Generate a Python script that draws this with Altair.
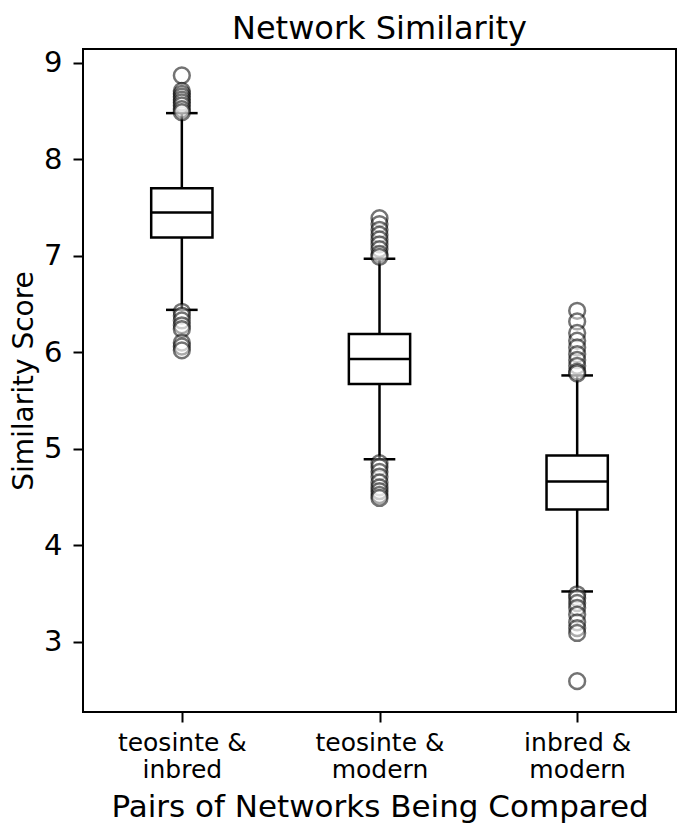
import altair as alt
import pandas as pd

# ---- data ----
categories = ["teosinte & inbred", "teosinte & modern", "inbred & modern"]
positions = [1, 2, 3]
q1 = [7.19, 5.67, 4.37]
median = [7.45, 5.93, 4.66]
q3 = [7.70, 6.19, 4.93]
whisker_low = [6.44, 4.89, 3.52]
whisker_high = [8.48, 6.97, 5.76]

outliers_teosinte_inbred = [8.87, 8.71, 8.68, 8.65, 8.62, 8.59, 8.56, 8.52, 8.49,
                            6.42, 6.38, 6.33, 6.28, 6.24, 6.10, 6.06, 6.02]
outliers_teosinte_modern = [7.39, 7.33, 7.27, 7.22, 7.17, 7.12, 7.07, 7.02, 6.99,
                            4.85, 4.81, 4.76, 4.71, 4.65, 4.60, 4.56, 4.52, 4.49]
outliers_inbred_modern = [6.43, 6.32, 6.20, 6.12, 6.05, 5.98, 5.92, 5.86, 5.80, 5.78,
                          3.49, 3.45, 3.40, 3.35, 3.28, 3.20, 3.14, 3.09, 2.59]

y_ticks = [3, 4, 5, 6, 7, 8, 9]

# ---- styling constants ----
BOX_HALF = 0.155
CAP_HALF = 0.08
LW = 2.5
FONT = "DejaVu Sans"

box_df = pd.DataFrame({
    "category": categories,
    "pos": positions,
    "q1": q1, "med": median, "q3": q3,
    "wlo": whisker_low, "whi": whisker_high,
})
box_df["box_l"] = box_df["pos"] - BOX_HALF
box_df["box_r"] = box_df["pos"] + BOX_HALF
box_df["cap_l"] = box_df["pos"] - CAP_HALF
box_df["cap_r"] = box_df["pos"] + CAP_HALF

out_rows = []
for p, vals in zip(positions, [outliers_teosinte_inbred, outliers_teosinte_modern, outliers_inbred_modern]):
    for v in vals:
        out_rows.append({"pos": p, "value": v})
out_df = pd.DataFrame(out_rows)

# multi-line tick labels: "teosinte &" / "inbred"
parts = []
for p, c in zip(positions, categories):
    a, b = c.split(" & ")
    parts.append((p, f"['{a} &', '{b}']"))
label_expr = ""
for p, arr in parts[:-1]:
    label_expr += f"datum.value == {p} ? {arr} : "
label_expr += parts[-1][1]

xscale = alt.Scale(domain=[0.5, 3.5], nice=False, zero=False)
yscale = alt.Scale(domain=[2.27, 9.145], nice=False, zero=False)

xaxis = alt.Axis(
    values=positions, labelExpr=label_expr, title="Pairs of Networks Being Compared",
    labelFontSize=25, labelLineHeight=27, labelPadding=8, labelFont=FONT,
    titleFontSize=31, titleFont=FONT, titleY=104, titleBaseline="alphabetic",
    tickSize=10, tickWidth=2, tickColor="black", labelColor="black", titleColor="black",
    domain=False, grid=False, titleFontWeight="normal",
)
yaxis = alt.Axis(
    values=y_ticks, title="Similarity Score", format="d",
    labelFontSize=29, labelPadding=11, labelFont=FONT,
    titleFontSize=28, titleFont=FONT, titleX=-59, titleY=331.5, titleAngle=270,
    titleBaseline="middle", titleAlign="center",
    tickSize=10, tickWidth=2, tickColor="black", labelColor="black", titleColor="black",
    domain=False, grid=False, titleFontWeight="normal",
)

base = alt.Chart(box_df)

whisk_lo = base.mark_rule(color="black", strokeWidth=LW).encode(
    x=alt.X("pos:Q", scale=xscale, axis=xaxis),
    y=alt.Y("wlo:Q", scale=yscale, axis=yaxis),
    y2="q1:Q",
)
whisk_hi = base.mark_rule(color="black", strokeWidth=LW).encode(
    x=alt.X("pos:Q", scale=xscale, axis=xaxis),
    y=alt.Y("q3:Q", scale=yscale, axis=yaxis),
    y2="whi:Q",
)
cap_lo = base.mark_rule(color="black", strokeWidth=LW).encode(
    x=alt.X("cap_l:Q", scale=xscale, axis=xaxis), x2="cap_r:Q",
    y=alt.Y("wlo:Q", scale=yscale, axis=yaxis),
)
cap_hi = base.mark_rule(color="black", strokeWidth=LW).encode(
    x=alt.X("cap_l:Q", scale=xscale, axis=xaxis), x2="cap_r:Q",
    y=alt.Y("whi:Q", scale=yscale, axis=yaxis),
)
box = base.mark_rect(fill="white", stroke="black", strokeWidth=LW).encode(
    x=alt.X("box_l:Q", scale=xscale, axis=xaxis), x2="box_r:Q",
    y=alt.Y("q1:Q", scale=yscale, axis=yaxis), y2="q3:Q",
)
med = base.mark_rule(color="black", strokeWidth=LW).encode(
    x=alt.X("box_l:Q", scale=xscale, axis=xaxis), x2="box_r:Q",
    y=alt.Y("med:Q", scale=yscale, axis=yaxis),
)
fliers = alt.Chart(out_df).mark_circle(
    size=250, fill="white", fillOpacity=0.4, stroke="black", strokeOpacity=0.55, strokeWidth=LW,
).encode(
    x=alt.X("pos:Q", scale=xscale, axis=xaxis),
    y=alt.Y("value:Q", scale=yscale, axis=yaxis),
)

chart = alt.layer(whisk_lo, whisk_hi, cap_lo, cap_hi, box, med, fliers).properties(
    width=593, height=663,
    autosize=alt.AutoSizeParams(type="none"),
    padding={"left": 75, "top": 41, "right": 1, "bottom": 111},
    title=alt.Title("Network Similarity", fontSize=32, font=FONT, fontWeight="normal",
                    color="black", offset=3, anchor="middle"),
).configure_view(stroke="black", strokeWidth=2)

chart.save("out.html", embed_options={"renderer": "svg", "actions": False})
